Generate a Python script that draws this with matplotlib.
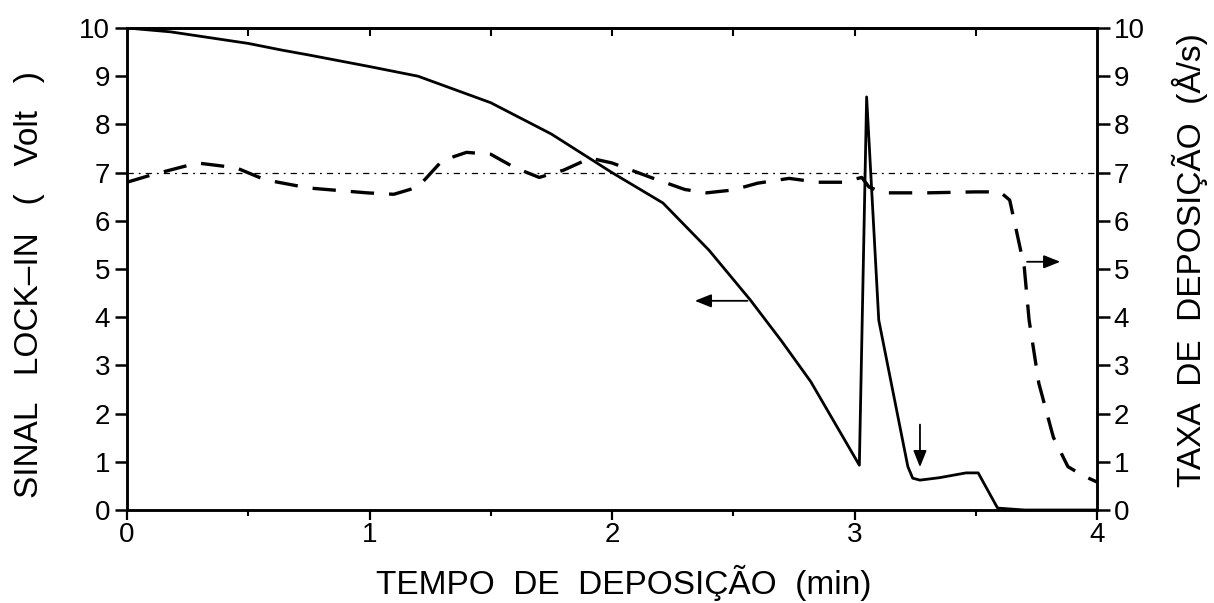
import matplotlib
matplotlib.use("Agg")
import matplotlib.pyplot as plt
from matplotlib.ticker import MultipleLocator

# ---- data ----
lockin_t = [0, 0.18, 0.5, 0.64, 0.75, 1.0, 1.13, 1.2, 1.5, 1.75, 2.0, 2.21, 2.40,
            2.57, 2.70, 2.82, 3.02, 3.05, 3.10, 3.22, 3.24, 3.27, 3.35, 3.46,
            3.51, 3.59, 3.70, 4.0]
lockin_v = [10.0, 9.92, 9.68, 9.54, 9.44, 9.2, 9.07, 9.0, 8.45, 7.8, 7.0, 6.37, 5.39,
            4.36, 3.50, 2.66, 0.93, 8.57, 3.94, 0.90, 0.66, 0.62, 0.67, 0.77,
            0.77, 0.04, 0.0, 0.0]

rate_t = [0, 0.1, 0.29, 0.45, 0.57, 0.75, 0.99, 1.1, 1.2, 1.3, 1.4, 1.5, 1.6,
          1.7, 1.8, 1.91, 2.0, 2.16, 2.3, 2.39, 2.5, 2.6, 2.73, 2.85, 2.95,
          3.03, 3.06, 3.12, 3.3, 3.5, 3.6, 3.64, 3.67, 3.7, 3.72, 3.76, 3.82,
          3.88, 3.94, 4.0]
rate_v = [6.8, 6.95, 7.2, 7.1, 6.85, 6.68, 6.58, 6.55, 6.7, 7.25, 7.42, 7.38, 7.1,
          6.9, 7.05, 7.3, 7.2, 6.9, 6.65, 6.58, 6.64, 6.78, 6.88, 6.8, 6.8,
          6.9, 6.7, 6.58, 6.58, 6.6, 6.6, 6.43, 5.74, 5.04, 3.94, 2.63, 1.51,
          0.9, 0.72, 0.58]

ref_rate = 7.0
x_ticks = [0, 1, 2, 3, 4]
y_ticks = list(range(0, 11))

xlabel = "TEMPO  DE  DEPOSIÇÃO  (min)"
ylabel_left = "SINAL   LOCK–IN   (   Volt   )"
ylabel_right = "TAXA  DE  DEPOSIÇÃO  (Å/s)"

plt.rcParams['font.family'] = ["Liberation Sans", "DejaVu Sans"]

fig = plt.figure(figsize=(12.14, 6.03), dpi=100)
ax = fig.add_axes([127/1214, 1-510/603, (1097-127)/1214, (510-28)/603])
ax2 = ax.twinx()

ax.plot(lockin_t, lockin_v, color="black", lw=2.0, solid_joinstyle="round")
ax2.plot(rate_t, rate_v, color="black", lw=2.4, dashes=(7, 4.5))
ax2.axhline(ref_rate, color="black", lw=0.9, dashes=(5, 4, 1.5, 4))

for a in (ax, ax2):
    a.set_xlim(0, 4)
    a.set_ylim(0, 10)
    for s in a.spines.values():
        s.set_linewidth(1.8)

ax.set_xticks(x_ticks)
ax.set_yticks(y_ticks)
ax2.set_yticks(y_ticks)
ax.xaxis.set_minor_locator(MultipleLocator(0.5))
ax.tick_params(axis="x", which="major", direction="out", length=7, width=1.6,
               labelsize=20, pad=2)
ax.tick_params(axis="x", which="minor", direction="out", length=4, width=1.5)
ax.tick_params(axis="y", which="major", direction="out", length=9, width=1.8,
               labelsize=20, pad=3)
ax2.tick_params(axis="y", which="major", direction="out", length=9, width=1.8,
                labelsize=20, pad=3)

top = ax.secondary_xaxis("top")
top.set_xticks([0.5, 1, 1.5, 2, 2.5, 3, 3.5])
top.tick_params(direction="in", length=6, width=1.5, labeltop=False)
top.spines["top"].set_linewidth(1.8)

# annotation arrows
arrow_kw = dict(arrowstyle="-|>,head_length=1.0,head_width=0.4", color="black", lw=1.3)
ax.annotate("", xy=(2.33, 4.34), xytext=(2.57, 4.34), arrowprops=arrow_kw)
ax.annotate("", xy=(3.86, 5.15), xytext=(3.70, 5.15), arrowprops=arrow_kw)
ax.annotate("", xy=(3.27, 0.83), xytext=(3.27, 1.83), arrowprops=arrow_kw)

fig.text(624/1214, 1-583/603, xlabel, ha="center", va="center", fontsize=24)
fig.text(30/1214, 1-285/603, ylabel_left, ha="center", va="center", rotation=90,
         fontsize=24)
fig.text(1190/1214, 1-260/603, ylabel_right, ha="center", va="center", rotation=90,
         fontsize=24)

fig.savefig("out.png", dpi=100)
